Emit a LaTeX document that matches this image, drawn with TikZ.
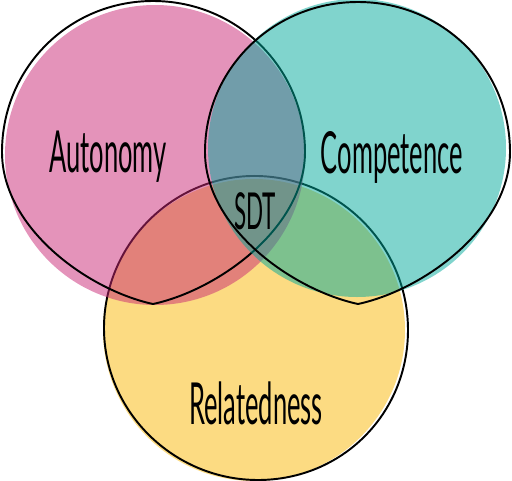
\documentclass[tikz,border=0pt]{standalone}
\usepackage{fontspec}
\setmainfont{Lato}[FakeStretch=0.44]
\usepackage{tikz}
\definecolor{autpink}{RGB}{201,39,117}
\definecolor{compteal}{RGB}{1,169,155}
\definecolor{relyellow}{RGB}{249,183,5}
\tikzset{
  blob/.style={fill opacity=0.5},
  rim/.style={line width=1.1pt, black, line join=round},
  label/.style={font=\fontsize{33}{34}\selectfont, inner sep=0pt}
}

\begin{document}
\begin{tikzpicture}[x=0.02cm, y=-0.02cm]
		\useasboundingbox (0,0) rectangle (512,481);
		% relatedness
		\fill[blob, fill=relyellow] (254,330) circle [radius=151];
		\draw[rim] (258,176) .. controls (340,178) and (408,246) .. (408,330) .. controls (408,414) and (342,480) .. (258,480) .. controls (174,480) and (104,412) .. (104,328) .. controls (104,244) and (174,174) .. (258,176) -- cycle;
		% autonomy
		\fill[blob, fill=autpink] (155,155) circle [radius=150];
		\draw[rim] (153,304) .. controls (218,290) and (305,228) .. (305,152) .. controls (305,68) and (237,1) .. (153,1) .. controls (69,1) and (2,68) .. (2,152) .. controls (2,228) and (88,290) .. (153,304) -- cycle;
		% competence
		\fill[blob, fill=compteal] (357,148) circle [radius=149];
		\draw[rim] (358,304) .. controls (293,290) and (205,228) .. (205,152) .. controls (205,68) and (274,2) .. (358,2) .. controls (442,2) and (510,68) .. (510,152) .. controls (510,228) and (423,290) .. (358,304) -- cycle;
		\node[label] (aut) at (108,157) {Autonomy};
		\node[label] (comp) at (392,157) {Competence};
		\node[label] (rel) at (256,403) {Relatedness};
		\node[label, font=\fontsize{29}{30}\selectfont] (sdt) at (255,211) {SDT};
\end{tikzpicture}
\end{document}
